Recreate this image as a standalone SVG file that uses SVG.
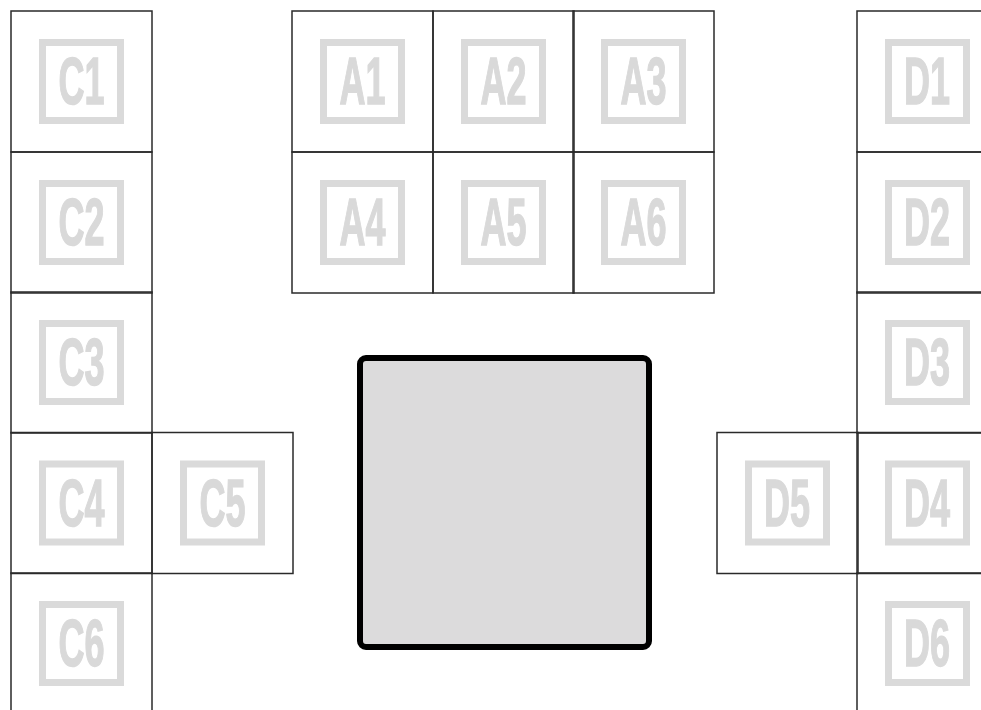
<svg xmlns="http://www.w3.org/2000/svg" width="981" height="710" viewBox="0 0 981 710">
<style>
.cell{fill:none;stroke:#2a2a2a;stroke-width:1.5}
.frame{fill:none;stroke:#dadada;stroke-width:7}
.lbl{fill:#d9d9d9;stroke:#d9d9d9;stroke-width:1.5;font-family:"Liberation Sans Narrow","Liberation Sans","DejaVu Sans Condensed",sans-serif;font-weight:bold;font-size:67px;text-anchor:middle}
.center{fill:#dcdbdc;stroke:#000;stroke-width:6}
</style>
<defs>
<g id="tile">
<rect class="cell" x="0" y="0" width="141" height="141"/>
<rect class="frame" x="31.5" y="31.5" width="78" height="78"/>
</g>
</defs>
<rect width="981" height="710" fill="#fff"/>
<g id="C1" transform="translate(11,11)"><use href="#tile"/><text class="lbl" x="70.5" y="93" textLength="46" lengthAdjust="spacingAndGlyphs">C1</text></g>
<g id="C2" transform="translate(11,152)"><use href="#tile"/><text class="lbl" x="70.5" y="93" textLength="46" lengthAdjust="spacingAndGlyphs">C2</text></g>
<g id="C3" transform="translate(11,292)"><use href="#tile"/><text class="lbl" x="70.5" y="93" textLength="46" lengthAdjust="spacingAndGlyphs">C3</text></g>
<g id="C4" transform="translate(11,432.5)"><use href="#tile"/><text class="lbl" x="70.5" y="93" textLength="46" lengthAdjust="spacingAndGlyphs">C4</text></g>
<g id="C5" transform="translate(152,432.5)"><use href="#tile"/><text class="lbl" x="70.5" y="93" textLength="46" lengthAdjust="spacingAndGlyphs">C5</text></g>
<g id="C6" transform="translate(11,573)"><use href="#tile"/><text class="lbl" x="70.5" y="93" textLength="46" lengthAdjust="spacingAndGlyphs">C6</text></g>
<g id="A1" transform="translate(292,11)"><use href="#tile"/><text class="lbl" x="70.5" y="93" textLength="46" lengthAdjust="spacingAndGlyphs">A1</text></g>
<g id="A2" transform="translate(433,11)"><use href="#tile"/><text class="lbl" x="70.5" y="93" textLength="46" lengthAdjust="spacingAndGlyphs">A2</text></g>
<g id="A3" transform="translate(573,11)"><use href="#tile"/><text class="lbl" x="70.5" y="93" textLength="46" lengthAdjust="spacingAndGlyphs">A3</text></g>
<g id="A4" transform="translate(292,152)"><use href="#tile"/><text class="lbl" x="70.5" y="93" textLength="46" lengthAdjust="spacingAndGlyphs">A4</text></g>
<g id="A5" transform="translate(433,152)"><use href="#tile"/><text class="lbl" x="70.5" y="93" textLength="46" lengthAdjust="spacingAndGlyphs">A5</text></g>
<g id="A6" transform="translate(573,152)"><use href="#tile"/><text class="lbl" x="70.5" y="93" textLength="46" lengthAdjust="spacingAndGlyphs">A6</text></g>
<g id="D1" transform="translate(857,11)"><use href="#tile"/><text class="lbl" x="70" y="93" textLength="46" lengthAdjust="spacingAndGlyphs">D1</text></g>
<g id="D2" transform="translate(857,152)"><use href="#tile"/><text class="lbl" x="70" y="93" textLength="46" lengthAdjust="spacingAndGlyphs">D2</text></g>
<g id="D3" transform="translate(857,292)"><use href="#tile"/><text class="lbl" x="70" y="93" textLength="46" lengthAdjust="spacingAndGlyphs">D3</text></g>
<g id="D4" transform="translate(857,432.5)"><use href="#tile"/><text class="lbl" x="70" y="93" textLength="46" lengthAdjust="spacingAndGlyphs">D4</text></g>
<g id="D5" transform="translate(717,432.5)"><use href="#tile"/><text class="lbl" x="70" y="93" textLength="46" lengthAdjust="spacingAndGlyphs">D5</text></g>
<g id="D6" transform="translate(857,573)"><use href="#tile"/><text class="lbl" x="70" y="93" textLength="46" lengthAdjust="spacingAndGlyphs">D6</text></g>
<g id="center"><rect class="center" x="360" y="358" width="289" height="289" rx="6"/></g>
<g id="connectors"></g>
</svg>
